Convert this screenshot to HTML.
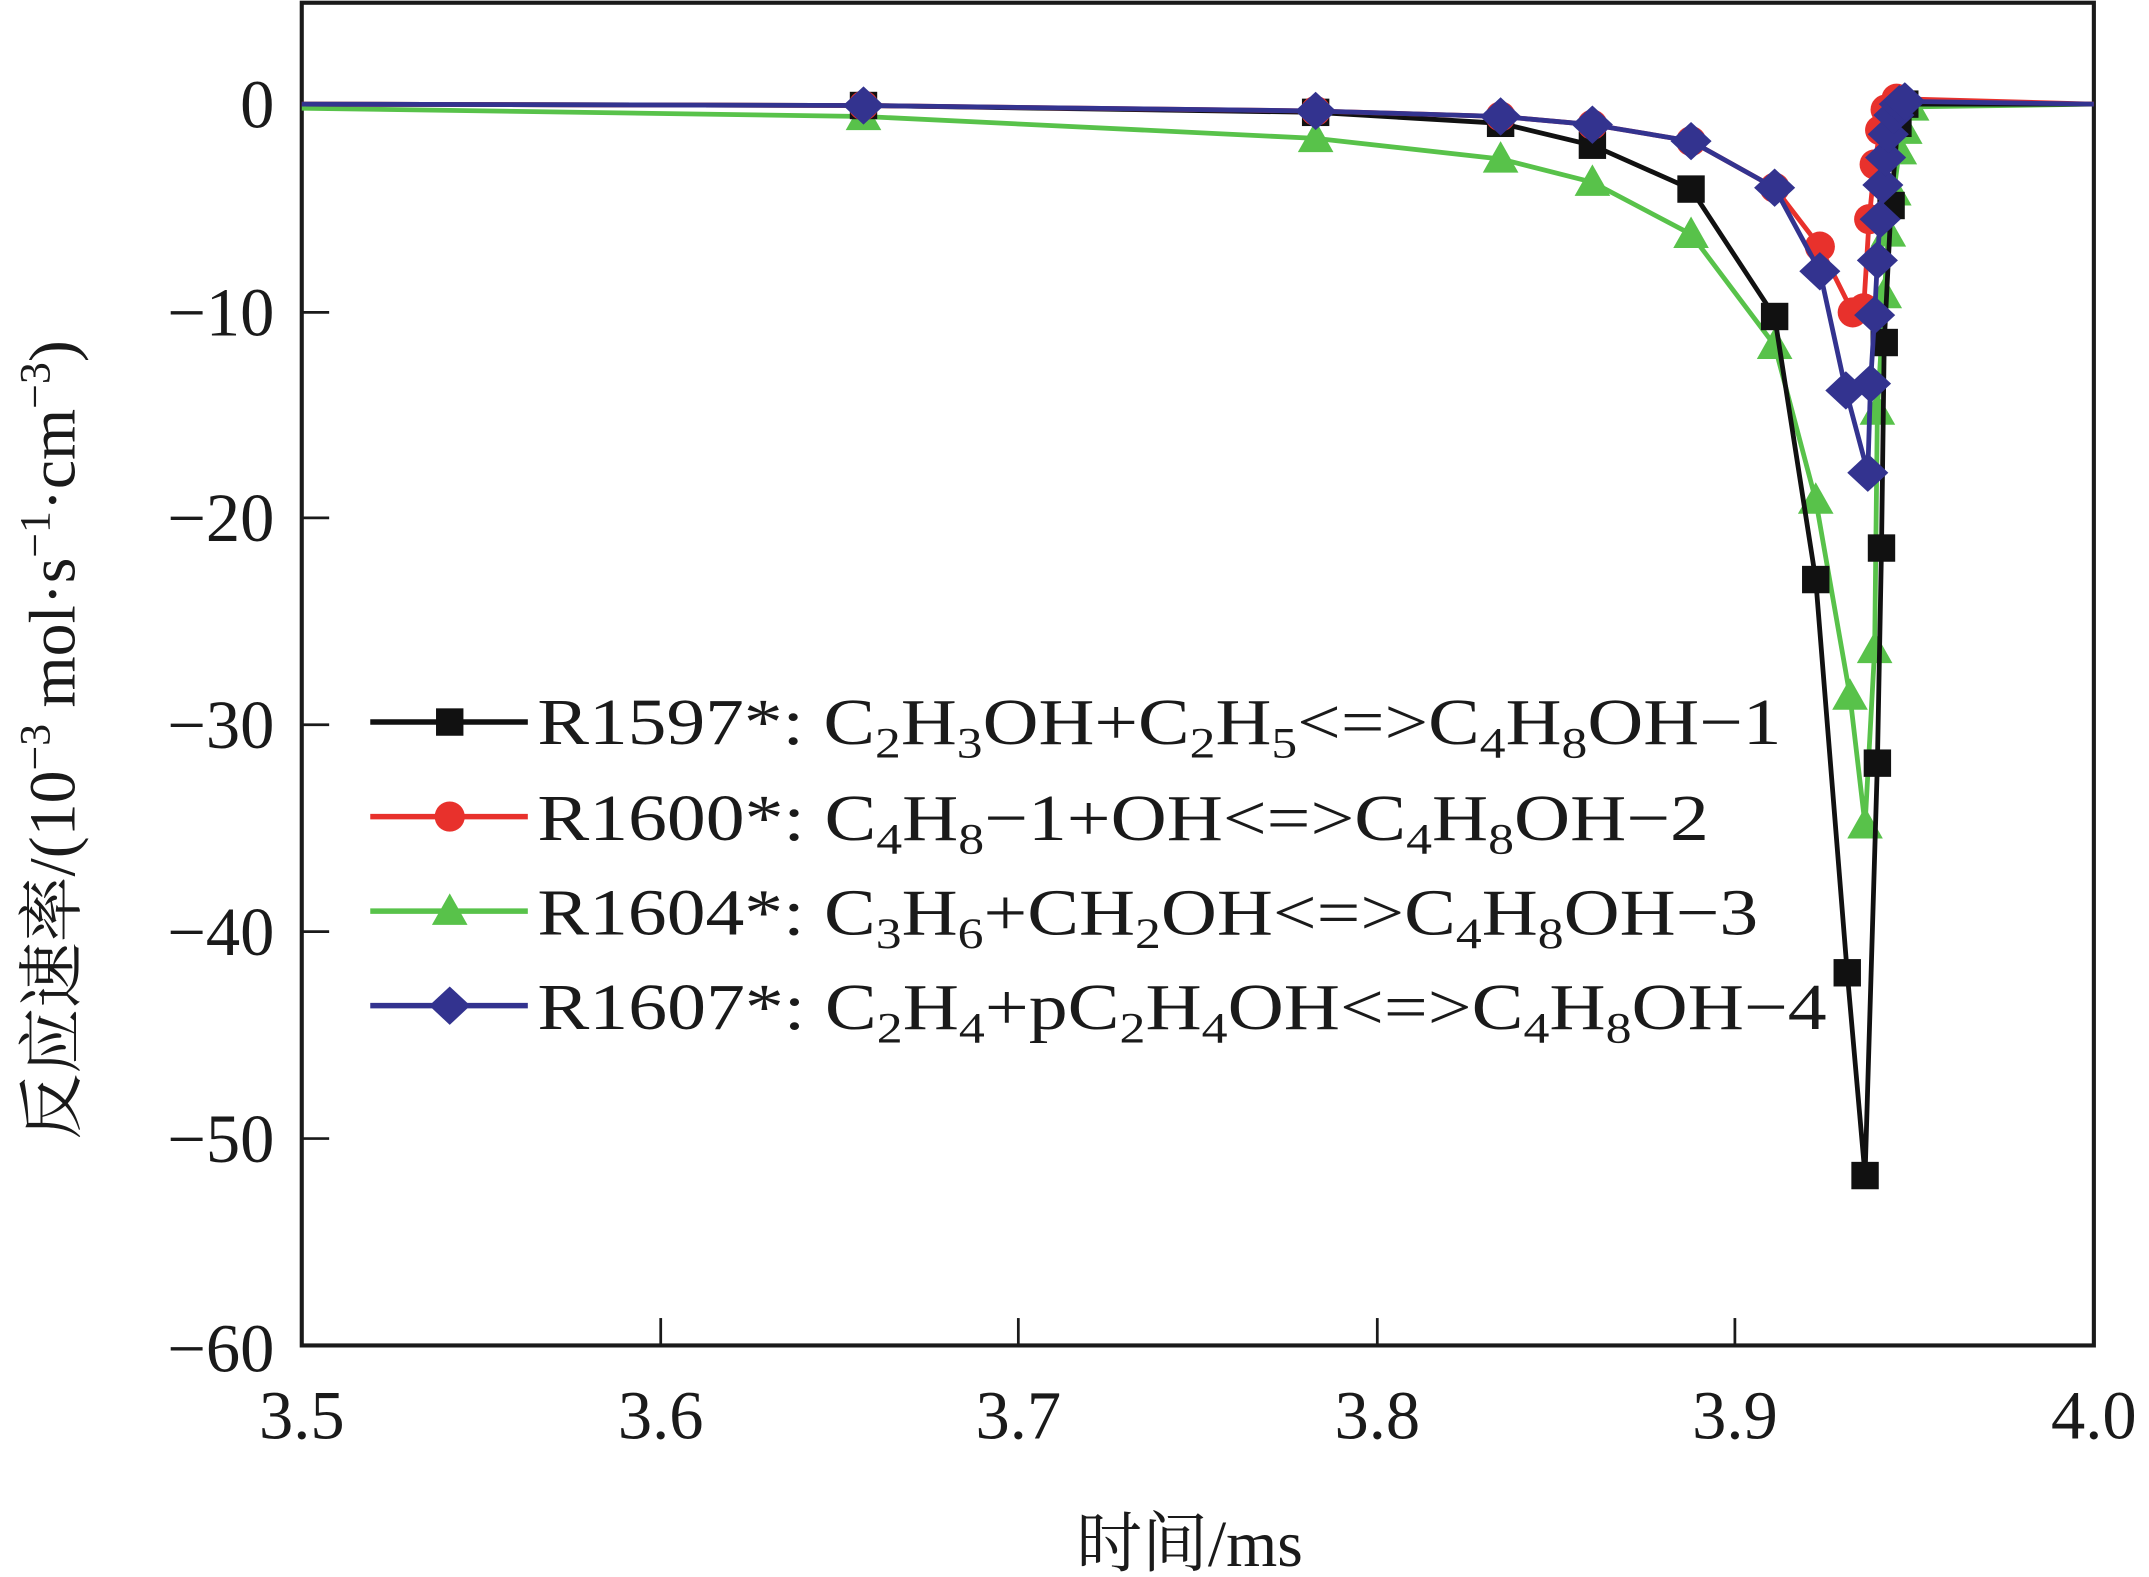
<!DOCTYPE html>
<html><head><meta charset="utf-8"><style>
html,body{margin:0;padding:0;background:#fff;}
svg{display:block;}
text{font-family:"Liberation Serif","Noto Serif CJK SC",serif;fill:#1a1a1a;}
</style></head><body>
<svg id="s" width="2149" height="1577" viewBox="0 0 1568 1151" xmlns="http://www.w3.org/2000/svg">
<rect x="220" y="2" width="1308" height="980" fill="none" stroke="#1a1a1a" stroke-width="3"/>
<g stroke="#1a1a1a" stroke-width="2">
<line x1="220" y1="76" x2="240" y2="76"/><line x1="220" y1="228" x2="240" y2="228"/><line x1="220" y1="378" x2="240" y2="378"/><line x1="220" y1="529" x2="240" y2="529"/><line x1="220" y1="680" x2="240" y2="680"/><line x1="220" y1="831" x2="240" y2="831"/>
<line x1="482" y1="982" x2="482" y2="962"/><line x1="743" y1="982" x2="743" y2="962"/><line x1="1005" y1="982" x2="1005" y2="962"/><line x1="1266" y1="982" x2="1266" y2="962"/>
</g>
<g font-size="50" text-anchor="end">
<text x="200" y="93">0</text><text x="200" y="245">−10</text><text x="200" y="395">−20</text><text x="200" y="546">−30</text><text x="200" y="697">−40</text><text x="200" y="848">−50</text><text x="200" y="1001">−60</text>
</g>
<g font-size="50" text-anchor="middle">
<text x="220" y="1050">3.5</text><text x="482" y="1050">3.6</text><text x="743" y="1050">3.7</text><text x="1005" y="1050">3.8</text><text x="1266" y="1050">3.9</text><text x="1528" y="1050">4.0</text>
</g>
<text x="868" y="1143" font-size="48" text-anchor="middle">时间/ms</text>
<text transform="translate(54,540) rotate(-90)" font-size="48" text-anchor="middle">反应速率/(10<tspan dy="-18" font-size="32">−3</tspan><tspan dy="18"> mol·s</tspan><tspan dy="-18" font-size="32">−1</tspan><tspan dy="18">·cm</tspan><tspan dy="-18" font-size="32">−3</tspan><tspan dy="18">)</tspan></text>
<g id="plot"></g>
<g id="leg"></g>
<g font-size="48">
<text x="392" y="543" textLength="908" lengthAdjust="spacingAndGlyphs">R1597*: C<tspan font-size="32" dy="10">2</tspan><tspan dy="-10">H</tspan><tspan font-size="32" dy="10">3</tspan><tspan dy="-10">OH+C</tspan><tspan font-size="32" dy="10">2</tspan><tspan dy="-10">H</tspan><tspan font-size="32" dy="10">5</tspan><tspan dy="-10">&lt;=&gt;C</tspan><tspan font-size="32" dy="10">4</tspan><tspan dy="-10">H</tspan><tspan font-size="32" dy="10">8</tspan><tspan dy="-10">OH−1</tspan></text>
<text x="392" y="613" textLength="855" lengthAdjust="spacingAndGlyphs">R1600*: C<tspan font-size="32" dy="10">4</tspan><tspan dy="-10">H</tspan><tspan font-size="32" dy="10">8</tspan><tspan dy="-10">−1+OH&lt;=&gt;C</tspan><tspan font-size="32" dy="10">4</tspan><tspan dy="-10">H</tspan><tspan font-size="32" dy="10">8</tspan><tspan dy="-10">OH−2</tspan></text>
<text x="392" y="682" textLength="891" lengthAdjust="spacingAndGlyphs">R1604*: C<tspan font-size="32" dy="10">3</tspan><tspan dy="-10">H</tspan><tspan font-size="32" dy="10">6</tspan><tspan dy="-10">+CH</tspan><tspan font-size="32" dy="10">2</tspan><tspan dy="-10">OH&lt;=&gt;C</tspan><tspan font-size="32" dy="10">4</tspan><tspan dy="-10">H</tspan><tspan font-size="32" dy="10">8</tspan><tspan dy="-10">OH−3</tspan></text>
<text x="392" y="751" textLength="941" lengthAdjust="spacingAndGlyphs">R1607*: C<tspan font-size="32" dy="10">2</tspan><tspan dy="-10">H</tspan><tspan font-size="32" dy="10">4</tspan><tspan dy="-10">+pC</tspan><tspan font-size="32" dy="10">2</tspan><tspan dy="-10">H</tspan><tspan font-size="32" dy="10">4</tspan><tspan dy="-10">OH&lt;=&gt;C</tspan><tspan font-size="32" dy="10">4</tspan><tspan dy="-10">H</tspan><tspan font-size="32" dy="10">8</tspan><tspan dy="-10">OH−4</tspan></text>
</g>
</svg>
<script>
var NS="http://www.w3.org/2000/svg";
function el(t,a,p){var e=document.createElementNS(NS,t);for(var k in a)e.setAttribute(k,a[k]);p.appendChild(e);return e;}
function mk(type,x,y,c,p){
 if(type=="s")el("rect",{x:x-10,y:y-10,width:20,height:20,fill:c},p);
 else if(type=="c")el("circle",{cx:x,cy:y,r:11,fill:c},p);
 else if(type=="t")el("polygon",{points:(x)+","+(y-13)+" "+(x+13)+","+(y+10)+" "+(x-13)+","+(y+10),fill:c},p);
 else el("polygon",{points:x+","+(y-14)+" "+(x+15)+","+y+" "+x+","+(y+14)+" "+(x-15)+","+y,fill:c},p);
}
var S=[
{c:"#58c24a",m:"t",p:[[220,79],[630,85],[960,101],[1095,116],[1162,133],[1234,171],[1295,252],[1325,365],[1350,508],[1361,602],[1368,474],[1370,300],[1375,215],[1378,170],[1382,140],[1386,110],[1390,95],[1395,78],[1528,76]]},
{c:"#111",m:"s",p:[[220,76],[630,77],[960,82],[1095,90],[1162,106],[1234,138],[1295,231],[1325,423],[1348,710],[1361,858],[1370,557],[1373,400],[1375,250],[1380,150],[1385,90],[1390,76],[1528,76]]},
{c:"#e8312c",m:"c",p:[[220,76],[630,77],[960,81],[1095,85],[1162,91],[1234,103],[1295,137],[1328,180],[1352,228],[1360,225],[1364,160],[1368,120],[1372,95],[1376,80],[1384,72],[1528,76]]},
{c:"#33338f",m:"d",p:[[220,76],[630,77],[960,81],[1095,85],[1162,91],[1234,103],[1295,137],[1328,198],[1347,285],[1363,345],[1365,280],[1368,230],[1370,190],[1372,160],[1374,135],[1376,115],[1378,98],[1382,84],[1386,76],[1390,74],[1528,76]]}
];
var g=document.getElementById("plot");
S.forEach(function(s){
 el("polyline",{points:s.p.map(function(q){return q.join(",")}).join(" "),fill:"none",stroke:s.c,"stroke-width":3.5},g);
 s.p.forEach(function(q,i){if(i>0&&i<s.p.length-1)mk(s.m,q[0],q[1],s.c,g);});
});
var L=document.getElementById("leg");
[["#111","s",527],["#e8312c","c",596],["#58c24a","t",665],["#33338f","d",734]].forEach(function(r){
 el("line",{x1:270,y1:r[2],x2:385,y2:r[2],stroke:r[0],"stroke-width":4},L);
 mk(r[1],328,r[2],r[0],L);
});
</script>
</body></html>
